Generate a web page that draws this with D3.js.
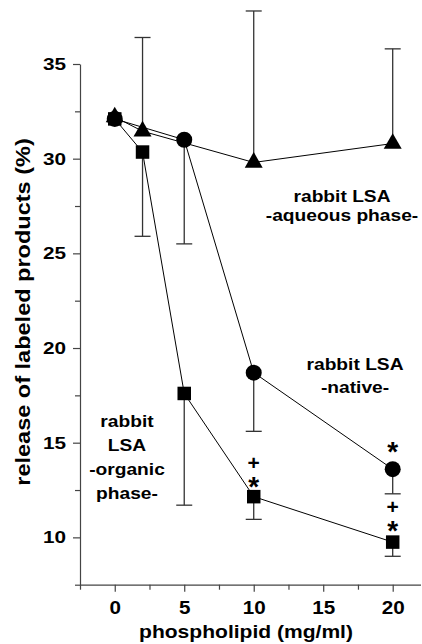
<!DOCTYPE html>
<html>
<head>
<meta charset="utf-8">
<script src="https://cdn.jsdelivr.net/npm/d3@7"></script>
<style>
    body { margin: 0; background: #fff; }
    text { font-family: "Liberation Sans", Arial, sans-serif; font-weight: bold; fill: #000; }
    .axis path, .axis line { stroke: #444; stroke-width: 1.2; }
    .link { fill: none; stroke: #000; stroke-width: 1; }
    .err { stroke: #333; stroke-width: 1.3; }
</style>
</head>
<body>
<div id="vis"></div>
<script>
    // phospholipid dose (mg/ml) and release (%) per series
    var triX = [0, 2, 10, 20];
    var triY = [32.2, 31.45, 29.8, 30.8];
    var triHi = [null, 36.4, 37.8, 35.8];

    var circX = [0, 5, 10, 20];
    var circY = [32.1, 31.0, 18.7, 13.6];
    var circLo = [null, 25.5, 15.6, 12.3];

    var sqX = [0, 2, 5, 10, 20];
    var sqY = [32.1, 30.35, 17.6, 12.15, 9.75];
    var sqLo = [null, 25.9, 11.7, 10.95, 9.0];

    // significance marks
    var markX = [10, 10, 20, 20, 20];
    var markY = [13.96, 13.06, 14.88, 11.61, 10.73];
    var markText = ["+", "*", "*", "+", "*"];

    var xTicks = [0, 5, 10, 15, 20];
    var xMinor = [-2.5, 2.5, 7.5, 12.5, 17.5];
    var yTicks = [10, 15, 20, 25, 30, 35];
    var yMinor = [7.5, 12.5, 17.5, 22.5, 27.5, 32.5];

    var width = 422,
        height = 644;

    var x = d3.scaleLinear().domain([-2.5, 22]).range([80, 420.5]);
    var y = d3.scaleLinear().domain([7.5, 35]).range([584.7, 64]);

    var svg = d3.select("#vis").append("svg")
        .attr("width", width)
        .attr("height", height);

    function series(xs, ys, lo, hi) {
        return xs.map(function(d, i) {
            return { x: d, y: ys[i], lo: lo ? lo[i] : null, hi: hi ? hi[i] : null };
        });
    }

    var tri = series(triX, triY, null, triHi),
        circ = series(circX, circY, circLo, null),
        sq = series(sqX, sqY, sqLo, null);

    // axes
    var yAxis = svg.append("g")
        .attr("class", "axis")
        .attr("transform", "translate(80,0)")
        .call(d3.axisLeft(y).tickValues(yTicks).tickSize(7).tickSizeOuter(0));
    yAxis.selectAll("text")
        .attr("x", 0)
        .attr("font-size", 17)
        .attr("font-family", null)
        .attr("transform", "translate(-14,0) scale(1.22,1)");

    svg.append("g")
        .attr("class", "axis")
        .attr("transform", "translate(80,0)")
        .call(d3.axisLeft(y).tickValues(yMinor).tickSize(5).tickFormat(""))
        .select(".domain").remove();

    var xAxis = svg.append("g")
        .attr("class", "axis")
        .attr("transform", "translate(0," + y(7.5) + ")")
        .call(d3.axisBottom(x).tickValues(xTicks).tickSize(7).tickPadding(10).tickSizeOuter(0));
    xAxis.selectAll("text")
        .attr("font-size", 17.5)
        .attr("font-family", null)
        .attr("transform", "scale(1.18,1)");

    svg.append("g")
        .attr("class", "axis")
        .attr("transform", "translate(0," + y(7.5) + ")")
        .call(d3.axisBottom(x).tickValues(xMinor).tickSize(5).tickFormat(""))
        .select(".domain").remove();

    // axis titles
    svg.append("text")
        .attr("transform", "translate(246,638) scale(1.17,1)")
        .attr("text-anchor", "middle")
        .attr("font-size", 18)
        .text("phospholipid (mg/ml)");

    svg.append("text")
        .attr("transform", "translate(30,312) rotate(-90) scale(1.12,1)")
        .attr("text-anchor", "middle")
        .attr("font-size", 21)
        .text("release of labeled products (%)");

    // connecting lines
    var line = d3.line()
        .x(function(d) { return x(d.x); })
        .y(function(d) { return y(d.y); });

    [tri, circ, sq].forEach(function(s) {
        svg.append("path").datum(s).attr("class", "link").attr("d", line);
    });

    // error bars
    var bars = [];
    [tri, circ, sq].forEach(function(s) {
        s.forEach(function(d) {
            if (d.hi != null) bars.push({ x: d.x, y0: d.y, y1: d.hi });
            if (d.lo != null) bars.push({ x: d.x, y0: d.y, y1: d.lo });
        });
    });

    var eb = svg.append("g").selectAll("g").data(bars).enter().append("g");
    eb.append("line").attr("class", "err")
        .attr("x1", function(d) { return x(d.x); })
        .attr("x2", function(d) { return x(d.x); })
        .attr("y1", function(d) { return y(d.y0); })
        .attr("y2", function(d) { return y(d.y1); });
    eb.append("line").attr("class", "err")
        .attr("x1", function(d) { return x(d.x) - 8; })
        .attr("x2", function(d) { return x(d.x) + 8; })
        .attr("y1", function(d) { return y(d.y1); })
        .attr("y2", function(d) { return y(d.y1); });

    // markers
    function markers(s, type, size) {
        svg.append("g").selectAll("path").data(s).enter().append("path")
            .attr("d", d3.symbol().type(type).size(size))
            .attr("transform", function(d) { return "translate(" + x(d.x) + "," + y(d.y) + ")"; })
            .attr("fill", "#000");
    }
    markers(sq, d3.symbolSquare, 13.5 * 13.5);
    markers(circ, d3.symbolCircle, Math.PI * 64);
    markers(tri, d3.symbolTriangle, 140);

    // significance marks, stacked per dose in one text element
    var marks = markText.map(function(t, i) { return { t: t, x: markX[i], y: markY[i] }; });
    var byDose = d3.groups(marks, function(d) { return d.x; });

    svg.append("g").selectAll("text")
        .data(byDose)
        .enter().append("text")
        .attr("text-anchor", "middle")
        .each(function(g) {
            var t = d3.select(this);
            g[1].forEach(function(d) {
                t.append("tspan")
                    .attr("x", x(d.x))
                    .attr("y", y(d.y))
                    .attr("dy", d.t == "*" ? "0.58em" : "0.35em")
                    .attr("font-size", d.t == "*" ? 28 : 21)
                    .text(d.t);
            });
        });

    // series labels
    function label(cx, cy, gap, lines) {
        var t = svg.append("text")
            .attr("transform", "translate(" + cx + "," + cy + ") scale(1.2,1)")
            .attr("text-anchor", "middle")
            .attr("font-size", 16);
        lines.forEach(function(l, i) {
            t.append("tspan").attr("x", 0).attr("y", i * gap).text(l);
        });
    }
    label(342, 201.5, 20, ["rabbit LSA", "-aqueous phase-"]);
    label(355, 370, 23.5, ["rabbit LSA", "-native-"]);
    label(127, 427, 24, ["rabbit", "LSA", "-organic", "phase-"]);
</script>
</body>
</html>
